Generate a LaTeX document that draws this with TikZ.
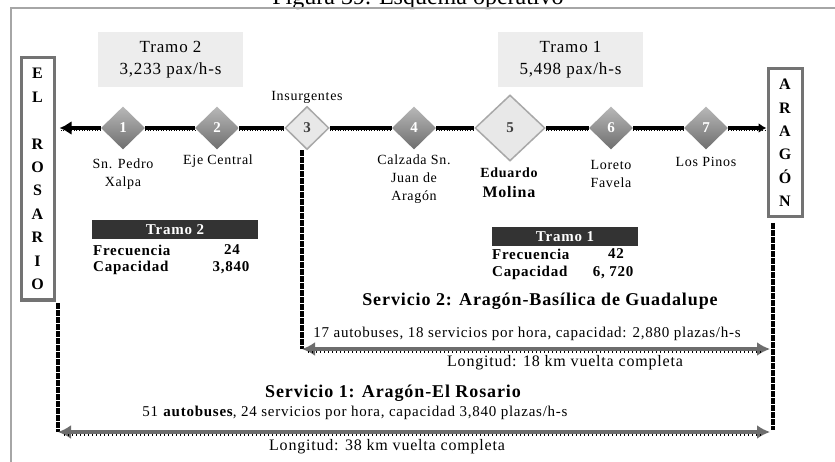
\documentclass[tikz,border=0pt]{standalone}
\usepackage{fontspec}
\setmainfont{Liberation Serif}
\newfontfamily\lsfont[LetterSpace=5]{Liberation Serif}
\usetikzlibrary{shapes.geometric,arrows.meta}
\definecolor{framegray}{HTML}{A6A6A6}
\definecolor{termgray}{HTML}{737373}
\definecolor{tramofill}{HTML}{EDEDED}
\definecolor{headfill}{HTML}{333333}
\definecolor{arrowgray}{HTML}{6D6D6D}
\definecolor{dtop}{HTML}{B8B8B8}
\definecolor{dbot}{HTML}{6E6E6E}
\definecolor{lightfill}{HTML}{E8E8E8}
\definecolor{lightdraw}{HTML}{A8A8A8}
\definecolor{numdark}{HTML}{404040}
\begin{document}
\begin{tikzpicture}[x=1pt,y=-1pt,
  every node/.style={inner sep=0pt,text=black},
  tramobox/.style={fill=tramofill,minimum width=145pt,minimum height=55pt,align=center,
    font=\lsfont\fontsize{17}{22}\selectfont},
  termbox/.style={draw=termgray,line width=3pt,fill=white,align=center,
    font=\lsfont\bfseries\fontsize{16}{23.4}\selectfont},
  gdiam/.style={diamond,minimum width=44pt,minimum height=43pt,top color=dtop,bottom color=dbot,
    text=white,font=\lsfont\bfseries\fontsize{15}{18}\selectfont},
  ldiam/.style={diamond,minimum width=44pt,minimum height=43pt,fill=lightfill,draw=lightdraw,line width=1.5pt,
    text=numdark,font=\lsfont\bfseries\fontsize{15}{18}\selectfont},
  stlabel/.style={align=center,font=\lsfont\fontsize{14}{18}\selectfont},
  thead/.style={fill=headfill,text=white,minimum height=19pt,font=\lsfont\bfseries\fontsize{15}{17}\selectfont},
  trow/.style={font=\lsfont\bfseries\fontsize{15}{17}\selectfont},
  svtitle/.style={font=\lsfont\bfseries\fontsize{18}{22}\selectfont},
  svtext/.style={font=\lsfont\fontsize{15}{17}\selectfont},
  svlen/.style={font=\lsfont\fontsize{16}{18}\selectfont},
  mainline/.style={draw=black,line width=4pt,
    postaction={draw=black,-,line width=1.3pt,dash pattern=on 1pt off 1.6pt,transform canvas={yshift=-2.4pt}}},
  grayarrow/.style={draw=arrowgray,line width=4pt,{Latex[length=13pt,width=14pt]}-{Latex[length=13pt,width=14pt]},
    postaction={draw=black,-,line width=1.1pt,dash pattern=on 1pt off 3pt,transform canvas={yshift=-3pt},shorten <=6pt,shorten >=6pt}},
  vline/.style={draw=black,line width=3.2pt,dash pattern=on 6pt off 1pt}
]
\clip (0,0) rectangle (835,462);
\fill[white] (0,0) rectangle (835,462);
% title and frame
\node[font=\fontsize{24}{28}\selectfont,anchor=base] (title) at (418,4.5) {Figura 39. Esquema operativo};
\draw[framegray,line width=2pt] (11,8.5) rectangle (900,520);
% tramo boxes
\node[tramobox] (t2) at (170.5,59.5) {Tramo 2\\3,233 pax/h-s};
\node[tramobox] (t1) at (570.5,59.5) {Tramo 1\\5,498 pax/h-s};
% terminal boxes
\node[termbox,minimum width=33pt,minimum height=242pt] (ros) at (37.5,179) {E\\L\\\mbox{}\\R\\O\\S\\A\\R\\I\\O};
\node[termbox,minimum width=34pt,minimum height=148pt] (ara) at (785,143) {A\\R\\A\\G\\Ó\\N};
% stations
\node[gdiam] (d1) at (123,128) {1};
\node[gdiam] (d2) at (217,128) {2};
\node[ldiam] (d3) at (307,128) {3};
\node[gdiam] (d4) at (414,128) {4};
\node[ldiam,minimum width=70pt,minimum height=66pt] (d5) at (510,128) {5};
\node[gdiam] (d6) at (611,128) {6};
\node[gdiam] (d7) at (706,128) {7};
% main line
\draw[mainline,-{Latex[length=12pt,width=14pt]}] (d1.west) -- ([xshift=4pt]ros.east |- d1.west);
\draw[mainline] (d1.east) -- (d2.west);
\draw[mainline] (d2.east) -- (d3.west);
\draw[mainline] (d3.east) -- (d4.west);
\draw[mainline] (d4.east) -- (d5.west);
\draw[mainline] (d5.east) -- (d6.west);
\draw[mainline] (d6.east) -- (d7.west);
\draw[mainline,-{Latex[length=8pt,width=10pt]}] (d7.east) -- (ara.west |- d7.east);
% station labels
\node[stlabel] (l1) at (123,174) {Sn. Pedro\\Xalpa};
\node[stlabel] (l2) at (218,161) {Eje Central};
\node[stlabel] (l3) at (307,97) {Insurgentes};
\node[stlabel] (l4) at (414,179) {Calzada Sn.\\Juan de\\Aragón};
\node[stlabel,font=\lsfont\bfseries\fontsize{14}{18}\selectfont] (l5) at (509,183) {Eduardo\\[2pt]{\fontsize{16}{18}\selectfont Molina}};
\node[stlabel] (l6) at (611,174) {Loreto\\Favela};
\node[stlabel] (l7) at (706,162) {Los Pinos};
% tables
\node[thead,minimum width=166pt] (h2) at (175,229.5) {Tramo 2};
\node[trow,anchor=west] (f2) at (93,250) {Frecuencia};
\node[trow] (f2v) at (232,250) {24};
\node[trow,anchor=west] (c2) at (93,268) {Capacidad};
\node[trow] (c2v) at (231,268) {3,840};
\node[thead,minimum width=146pt] (h1) at (565,236.5) {Tramo 1};
\node[trow,anchor=west] (f1) at (492,254) {Frecuencia};
\node[trow] (f1v) at (616,254) {42};
\node[trow,anchor=west] (c1) at (492,273) {Capacidad};
\node[trow] (c1v) at (613,273) {6, 720};
% services
\coordinate (s2L) at (302,349);
\coordinate (s2R) at (770,349);
\coordinate (s1L) at (58,432);
\coordinate (s1R) at (770,432);
\coordinate (vRtop) at (773,223);
\coordinate (vRbot) at (773,430);
\coordinate (vLtop) at (58,303);
\draw[vline] (d3.south -| s2L) -- (s2L);
\draw[vline] (vRtop) -- (vRbot);
\draw[vline] (vLtop) -- (s1L);
\draw[grayarrow] (s2L) -- (s2R);
\draw[grayarrow] (s1L) -- (s1R);
\node[svtitle] (sv2) at (540,301) {Servicio 2: Aragón-Basílica de Guadalupe};
\node[svtext] (sv2a) at (527,334) {17 autobuses, 18 servicios por hora, capacidad: 2,880 plazas/h-s};
\node[svlen] (sv2b) at (565,363) {Longitud: 18 km vuelta completa};
\node[svtitle] (sv1) at (393,393) {Servicio 1: Aragón-El Rosario};
\node[svtext] (sv1a) at (355,413) {51 \textbf{autobuses}, 24 servicios por hora, capacidad 3,840 plazas/h-s};
\node[svlen] (sv1b) at (387,447) {Longitud: 38 km vuelta completa};
\end{tikzpicture}
\end{document}
